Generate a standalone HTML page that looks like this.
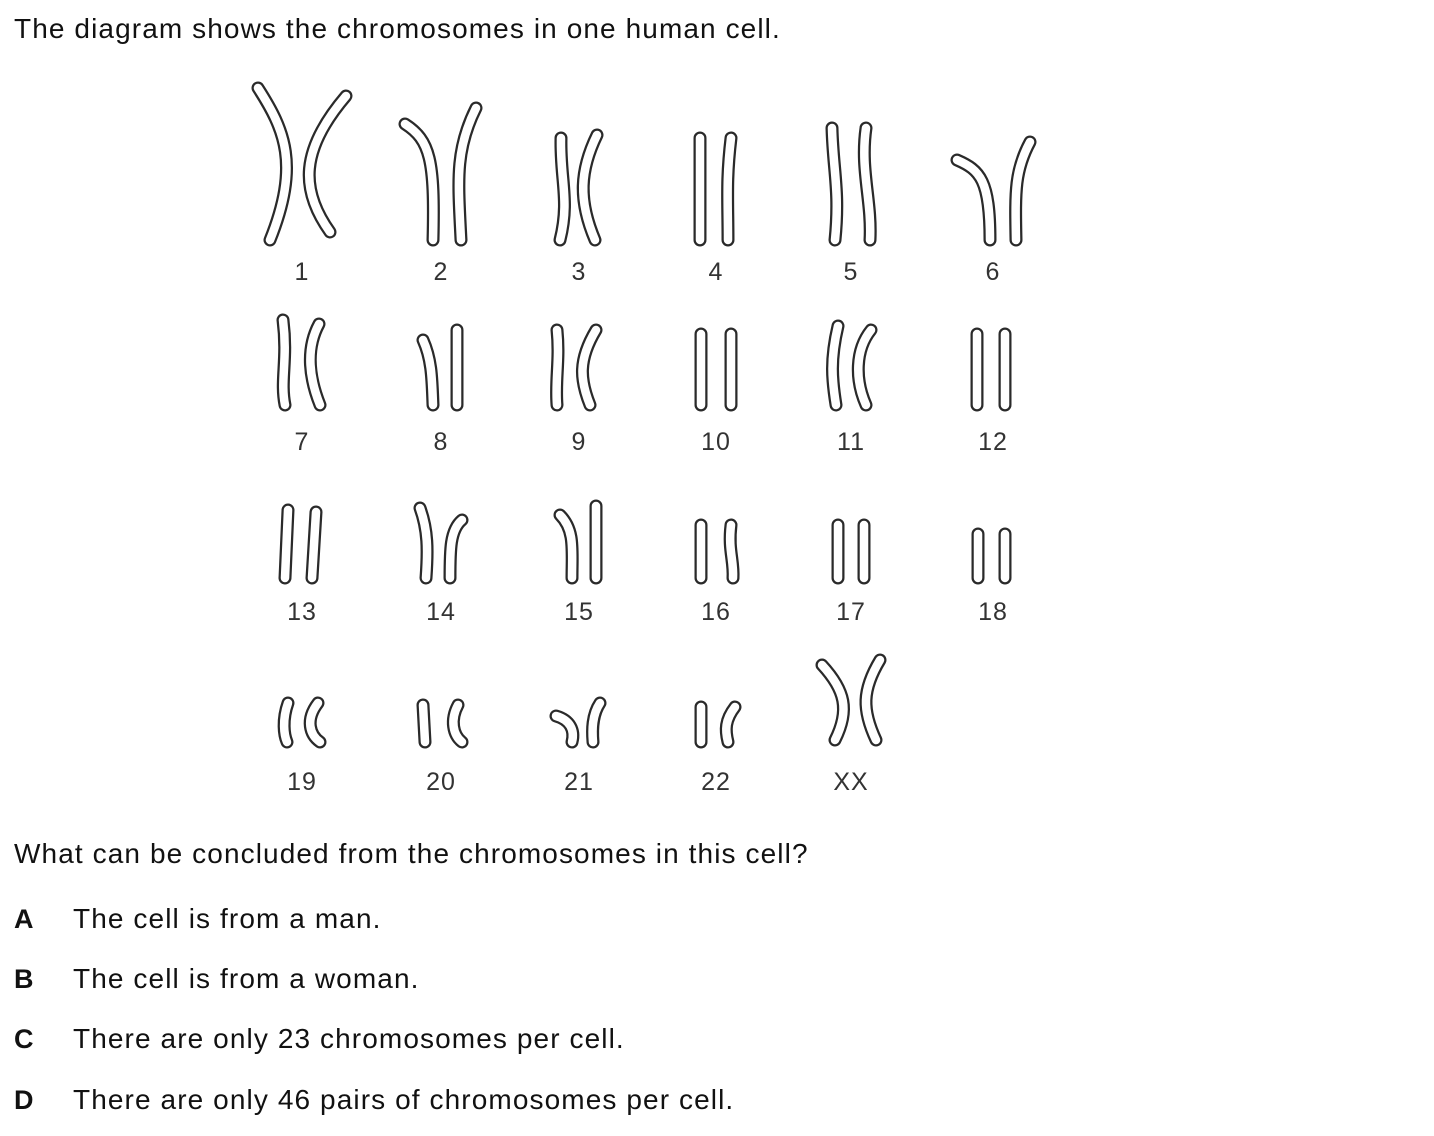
<!DOCTYPE html>
<html><head><meta charset="utf-8">
<style>
body{margin:0;background:#fff;width:1434px;height:1136px;overflow:hidden;font-family:"Liberation Sans",sans-serif;color:#111;}
.t{position:absolute;font-size:28px;letter-spacing:1.1px;white-space:nowrap;}
.l{position:absolute;font-size:27px;font-weight:bold;}
svg{position:absolute;left:0;top:0;}
.o{fill:none;stroke:#2a2a2a;stroke-width:13;stroke-linecap:round;stroke-linejoin:round}
.i{fill:none;stroke:#fff;stroke-width:8.5;stroke-linecap:round;stroke-linejoin:round}
.lab{font-size:25px;fill:#333;text-anchor:middle;font-family:"Liberation Sans",sans-serif;letter-spacing:1px}
</style></head><body>
<div class="t" style="left:14px;top:13px">The diagram shows the chromosomes in one human cell.</div>
<svg width="1434" height="1136" id="sv"></svg>
<div class="t" style="left:14px;top:838px">What can be concluded from the chromosomes in this cell?</div>
<div class="l" style="left:14px;top:904px">A</div>
<div class="t" style="left:73px;top:903px">The cell is from a man.</div>
<div class="l" style="left:14px;top:964px">B</div>
<div class="t" style="left:73px;top:963px">The cell is from a woman.</div>
<div class="l" style="left:14px;top:1024px">C</div>
<div class="t" style="left:73px;top:1023px">There are only 23 chromosomes per cell.</div>
<div class="l" style="left:14px;top:1085px">D</div>
<div class="t" style="left:73px;top:1084px">There are only 46 pairs of chromosomes per cell.</div>
<script>
const labels=["1","2","3","4","5","6","7","8","9","10","11","12","13","14","15","16","17","18","19","20","21","22","XX"];
const shapes=[
["M258,88 C285,130 300,165 270,240","M346,96 C300,150 300,190 330,232"],
["M405,124 C430,140 435,160 433,240","M476,108 C455,150 458,180 461,240"],
["M561,138 C560,180 570,200 560,240","M597,135 C580,170 578,200 595,240"],
["M700,138 L700,240","M731,138 C726,180 728,200 728,240"],
["M832,128 C833,170 840,190 835,240","M866,128 C860,170 872,200 870,240"],
["M957,160 C980,170 990,180 990,240","M1030,142 C1015,170 1015,190 1016,240"],
["M283,320 C288,360 280,380 285,405","M319,324 C305,350 310,380 320,405"],
["M423,340 C432,360 432,380 433,405","M457,330 L457,405"],
["M557,330 C560,360 555,380 557,405","M596,330 C578,360 580,380 590,405"],
["M701,334 L701,405","M731,334 L731,405"],
["M838,326 C830,360 832,380 836,405","M871,330 C855,350 855,380 866,405"],
["M977,334 L977,405","M1005,334 L1005,405"],
["M288,510 L285,578","M316,512 L312,578"],
["M420,508 C428,530 428,550 426,578","M462,520 C450,530 450,550 450,578"],
["M560,515 C575,530 572,550 572,578","M596,506 L596,578"],
["M701,525 L701,578","M731,525 C728,550 734,560 733,578"],
["M838,525 L838,578","M864,525 L864,578"],
["M978,534 L978,578","M1005,534 L1005,578"],
["M288,703 C282,720 284,735 287,742","M318,703 C305,720 310,735 320,742"],
["M423,705 L425,742","M458,705 C450,720 453,735 462,742"],
["M556,716 C570,720 575,730 572,742","M600,703 C592,715 592,730 593,742"],
["M701,707 L701,742","M735,707 C725,720 725,730 728,742"],
["M822,665 C845,690 850,710 835,740","M880,660 C862,690 862,710 876,740"]
];
const colX=[302,441,579,716,851,993];
const rowY=[280,450,620,790];
const NS="http://www.w3.org/2000/svg";
const sv=document.getElementById('sv');
shapes.forEach((pair,k)=>{
  const g=document.createElementNS(NS,'g');
  
  
  pair.forEach(d=>{
    ['o','i'].forEach(c=>{
      const p=document.createElementNS(NS,'path');
      p.setAttribute('d',d);p.setAttribute('class',c);
      
      
      g.appendChild(p);
    });
  });
  const t=document.createElementNS(NS,'text');
  t.setAttribute('class','lab');
  t.setAttribute('x',colX[k%6]);t.setAttribute('y',rowY[Math.floor(k/6)]);
  t.textContent=labels[k];
  
  
  g.appendChild(t);
  sv.appendChild(g);
});
</script>
</body></html>
